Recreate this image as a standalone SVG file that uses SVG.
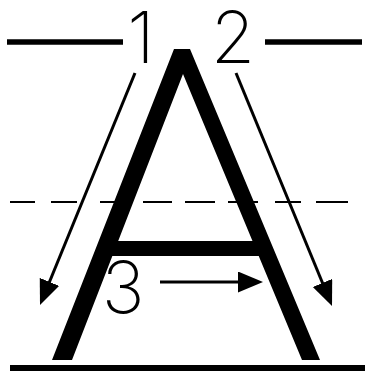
<svg xmlns="http://www.w3.org/2000/svg" width="366" height="371" viewBox="0 0 366 371">
  <style>
    .rule { stroke: #000; stroke-width: 5.5; fill: none; }
    .dash { stroke: #000; stroke-width: 2; fill: none; }
    .shaft { stroke: #000; stroke-width: 3; fill: none; }
    .num { font-family: Inter, "Liberation Sans", sans-serif; font-weight: 200; font-size: 72px; fill: #000; text-anchor: middle; }
  </style>
  <defs>
    <marker id="head" markerUnits="userSpaceOnUse" markerWidth="26" markerHeight="22" refX="15" refY="10.5" orient="auto">
      <path d="M0,0 L25,10.5 L0,21 z" fill="#000"/>
    </marker>
  </defs>
  <rect width="366" height="371" fill="#fff"/>
  <g id="guides">
    <line class="rule" x1="7" y1="42" x2="123" y2="42"/>
    <line class="rule" x1="265" y1="42" x2="362" y2="42"/>
    <g class="dash">
      <line x1="10" y1="202" x2="35" y2="202"/>
      <line x1="51" y1="202" x2="77" y2="202"/>
      <line x1="100" y1="202" x2="126" y2="202"/>
      <line x1="143" y1="202" x2="172" y2="202"/>
      <line x1="185" y1="202" x2="215" y2="202"/>
      <line x1="228" y1="202" x2="258" y2="202"/>
      <line x1="275" y1="202" x2="301" y2="202"/>
      <line x1="316" y1="202" x2="348" y2="202"/>
    </g>
    <rect x="10" y="365" width="355" height="6" fill="#000"/>
  </g>
  <g id="letter-A">
    <polygon points="52,360 174,49 190,49 320,360 302,360 183,74 72,360" fill="#000"/>
    <rect x="108" y="241" width="152" height="15" fill="#000"/>
  </g>
  <g id="label-1"><text class="num" x="141" y="63">1</text></g>
  <g id="label-2"><text class="num" x="233" y="63">2</text></g>
  <g id="label-3"><text class="num" x="123" y="313">3</text></g>
  <g id="connectors">
    <line class="shaft" x1="135" y1="73" x2="43.8" y2="295.75" marker-end="url(#head)"/>
    <line class="shaft" x1="236" y1="73" x2="328.2" y2="296.75" marker-end="url(#head)"/>
    <line class="shaft" x1="160" y1="282" x2="253" y2="282" marker-end="url(#head)"/>
  </g>
</svg>
